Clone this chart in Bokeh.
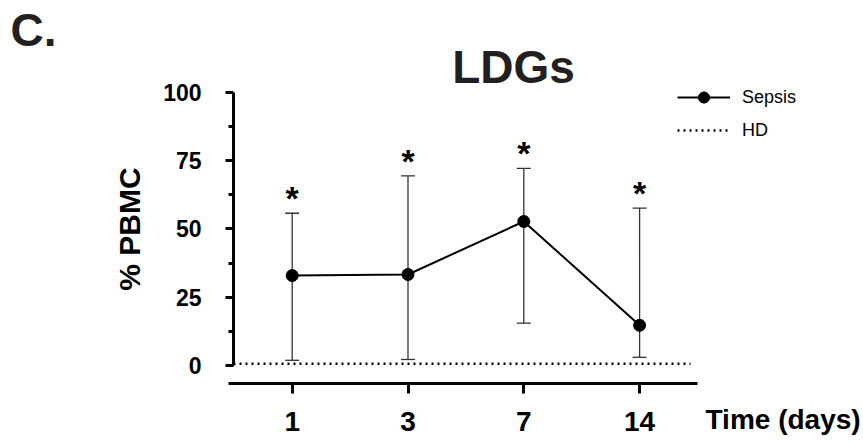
from bokeh.plotting import figure
from bokeh.models import (Range1d, FixedTicker, Whisker, ColumnDataSource,
                          Label, Legend, LegendItem, TeeHead)
from bokeh.core.properties import value
from bokeh.embed import file_html
from bokeh.resources import INLINE

# ---- data ----
days = ["1", "3", "7", "14"]
sepsis_mean = [32.9, 33.3, 52.7, 14.7]
sepsis_upper = [55.7, 69.4, 72.1, 57.6]
sepsis_lower = [1.9, 2.2, 15.5, 3.0]
hd_level = 0.6
y_ticks = [0, 25, 50, 75, 100]
y_minor = [12.5, 37.5, 62.5, 87.5]
title_text = "LDGs"
panel_text = "C."
x_title = "Time (days)"
y_title = "% PBMC"
series_names = ["Sepsis", "HD"]
star_text = "*"

# ---- layout (pixels) ----
W, H = 860, 440
X0_PX, DX_PX = 291.7, 115.8      # pixel of first category, pixel spacing
Y0_PX, DY_PX = 365.0, 2.733      # pixel of y=0, pixels per unit
FONT = "Liberation Sans"

xpos = list(range(len(days)))
AX_LEFT = (233 - X0_PX) / DX_PX
AX_XSTART = (228 - X0_PX) / DX_PX
AX_XEND = (697 - X0_PX) / DX_PX
HD_END = (690 - X0_PX) / DX_PX
AX_Y = (Y0_PX - 383) / DY_PX

src = ColumnDataSource(dict(x=xpos, mean=sepsis_mean, upper=sepsis_upper, lower=sepsis_lower))

p = figure(x_range=Range1d((0 - X0_PX) / DX_PX, (W - X0_PX) / DX_PX),
           y_range=Range1d((Y0_PX - H) / DY_PX, Y0_PX / DY_PX),
           frame_width=W, frame_height=H,
           min_border_left=0, min_border_right=0, min_border_top=0, min_border_bottom=0,
           output_backend="svg", toolbar_location=None)
p.outline_line_color = None
p.xgrid.visible = False
p.ygrid.visible = False
p.background_fill_color = "white"
p.border_fill_color = "white"

# error bars
w = Whisker(source=src, base="x", upper="upper", lower="lower",
            line_color="#333333", line_width=1.3,
            upper_head=TeeHead(size=14, line_color="#333333", line_width=1.3),
            lower_head=TeeHead(size=14, line_color="#333333", line_width=1.3))
p.add_layout(w)

# HD dotted reference line
hd_r = p.segment(x0=AX_LEFT, x1=HD_END, y0=hd_level, y1=hd_level,
                 line_dash="2 4", line_width=2.5, line_color="black")

# Sepsis series
l = p.line("x", "mean", source=src, line_width=2, line_color="black")
c = p.scatter("x", "mean", source=src, size=12, fill_color="black", line_color="black")

# significance stars
p.text(x="x", y="upper", text=value(star_text), source=src, y_offset=-15,
       text_font=value(FONT), text_font_style="bold", text_font_size="34px",
       text_align="center", text_baseline="alphabetic", text_color="black")

# axes
xa = p.xaxis[0]
xa.fixed_location = AX_Y
xa.bounds = (AX_XSTART, AX_XEND)
xa.ticker = FixedTicker(ticks=xpos, minor_ticks=[])
xa.major_label_overrides = {i: d for i, d in zip(xpos, days)}
xa.axis_line_width = 3
xa.major_tick_line_width = 3
xa.major_tick_out = 10
xa.major_tick_in = 0
xa.minor_tick_line_color = None
xa.major_label_text_font = FONT
xa.major_label_text_font_style = "bold"
xa.major_label_text_font_size = "28px"
xa.major_label_text_color = "black"
xa.major_label_standoff = 18

ya = p.yaxis[0]
ya.fixed_location = AX_LEFT
ya.ticker = FixedTicker(ticks=y_ticks, minor_ticks=y_minor)
ya.bounds = (0, 100)
ya.axis_line_width = 3
ya.major_tick_line_width = 3
ya.major_tick_out = 8
ya.major_tick_in = 0
ya.minor_tick_line_width = 3
ya.minor_tick_out = 5
ya.minor_tick_in = 0
ya.major_label_text_font = FONT
ya.major_label_text_font_style = "bold"
ya.major_label_text_font_size = "23px"
ya.major_label_text_color = "black"
ya.major_label_standoff = 24
ya.axis_label = y_title
ya.axis_label_text_font = FONT
ya.axis_label_text_font_style = "bold"
ya.axis_label_text_font_size = "30px"
ya.axis_label_text_color = "black"
ya.axis_label_standoff = 14

# texts (screen units from the bottom-left of the frame = canvas)
p.add_layout(Label(x=513, y=H - 66.7, x_units="screen", y_units="screen", text=title_text,
                   text_font=FONT, text_font_style="bold", text_font_size="46px",
                   text_align="center", text_baseline="middle", text_color="#231f20"))
p.add_layout(Label(x=10, y=H - 29, x_units="screen", y_units="screen", text=panel_text,
                   text_font=FONT, text_font_style="bold", text_font_size="46px",
                   text_align="left", text_baseline="middle", text_color="#231f20"))
p.add_layout(Label(x=705, y=H - 419, x_units="screen", y_units="screen", text=x_title,
                   text_font=FONT, text_font_style="bold", text_font_size="28px",
                   text_align="left", text_baseline="middle", text_color="black"))

legend = Legend(items=[LegendItem(label=series_names[0], renderers=[l, c]),
                       LegendItem(label=series_names[1], renderers=[hd_r])],
                location=(677, H - 144), glyph_width=53, glyph_height=28, label_height=28,
                spacing=5, label_standoff=12, padding=0, margin=0,
                border_line_color=None, background_fill_alpha=0,
                label_text_font=FONT, label_text_font_size="18px", label_text_color="black")
p.add_layout(legend)

open("out.html", "w").write(file_html(p, INLINE))
